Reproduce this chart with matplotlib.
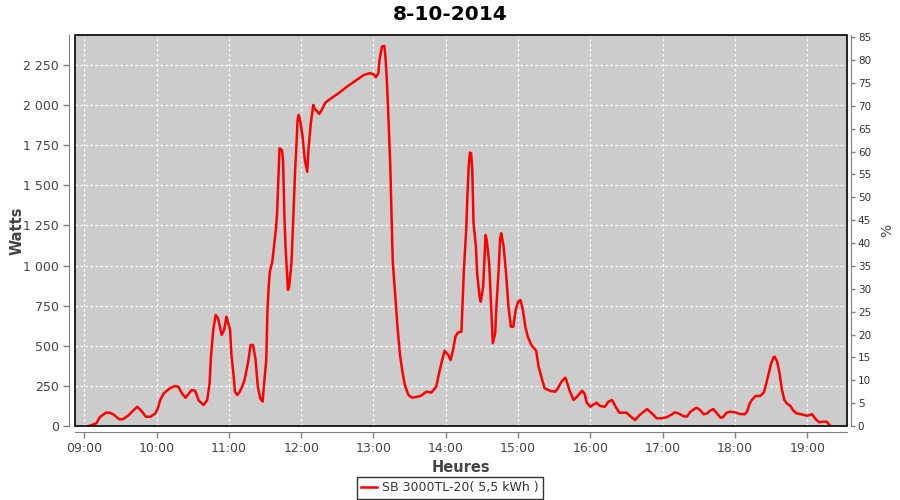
import numpy as np
import matplotlib
matplotlib.use("Agg")
import matplotlib.pyplot as plt
from matplotlib.patches import Rectangle
from matplotlib.ticker import FuncFormatter, FixedLocator

# Data (time of day, watts)
times = [
    "09:04", "09:10", "09:13", "09:18", "09:21", "09:24", "09:29", "09:32", "09:37", "09:39",
    "09:44", "09:48", "09:51", "09:55", "09:59", "10:01", "10:03", "10:06", "10:11", "10:15",
    "10:18", "10:21", "10:24", "10:29", "10:32", "10:35", "10:39", "10:42", "10:44", "10:45",
    "10:47", "10:49", "10:51", "10:54", "10:56", "10:58", "11:01", "11:02", "11:04", "11:05",
    "11:07", "11:09", "11:11", "11:13", "11:16", "11:18", "11:20", "11:22", "11:24", "11:26",
    "11:28", "11:29", "11:31", "11:32", "11:33", "11:34", "11:36", "11:37", "11:38", "11:39",
    "11:40", "11:41", "11:42", "11:44", "11:45", "11:46", "11:47", "11:49", "11:50", "11:52",
    "11:53", "11:54", "11:55", "11:56", "11:57", "11:58", "11:59", "12:01", "12:03", "12:05",
    "12:06", "12:08", "12:10", "12:11", "12:15", "12:17", "12:20", "12:24", "12:31", "12:38",
    "12:46", "12:52", "12:57", "13:00", "13:02", "13:04", "13:05", "13:07", "13:09", "13:10",
    "13:11", "13:12", "13:13", "13:14", "13:15", "13:16", "13:18", "13:20", "13:22", "13:24",
    "13:26", "13:29", "13:32", "13:35", "13:39", "13:44", "13:48", "13:52", "13:55", "13:57",
    "13:59", "14:02", "14:04", "14:06", "14:08", "14:10", "14:13", "14:14", "14:15", "14:17",
    "14:18", "14:19", "14:20", "14:21", "14:22", "14:23", "14:25", "14:26", "14:28", "14:29",
    "14:31", "14:32", "14:33", "14:34", "14:36", "14:37", "14:38", "14:39", "14:41", "14:42",
    "14:44", "14:45", "14:46", "14:48", "14:50", "14:52", "14:54", "14:56", "14:58", "15:00",
    "15:02", "15:04", "15:06", "15:08", "15:11", "15:15", "15:17", "15:20", "15:22", "15:27",
    "15:31", "15:33", "15:36", "15:39", "15:40", "15:43", "15:46", "15:49", "15:53", "15:55",
    "15:57", "16:00", "16:02", "16:05", "16:08", "16:12", "16:15", "16:18", "16:21", "16:24",
    "16:30", "16:33", "16:37", "16:41", "16:47", "16:51", "16:55", "16:59", "17:03", "17:07",
    "17:10", "17:13", "17:17", "17:20", "17:23", "17:28", "17:31", "17:34", "17:37", "17:39",
    "17:42", "17:45", "17:48", "17:50", "17:53", "17:56", "18:00", "18:04", "18:08", "18:10",
    "18:12", "18:14", "18:17", "18:21", "18:24", "18:26", "18:28", "18:30", "18:32", "18:33",
    "18:35", "18:37", "18:39", "18:41", "18:43", "18:46", "18:48", "18:51", "18:55", "19:00",
    "19:02", "19:04", "19:07", "19:10", "19:13", "19:16", "19:18", "19:19",
]
watts = [
    0, 17, 56, 83, 83, 73, 42, 42, 68, 85,
    120, 89, 58, 58, 79, 110, 162, 204, 235, 249,
    245, 204, 176, 224, 220, 158, 131, 162, 266, 422,
    598, 692, 671, 567, 598, 681, 598, 453, 307, 214,
    193, 214, 245, 287, 401, 505, 505, 422, 245, 173,
    152, 245, 411, 720, 868, 962, 1024, 1087, 1160, 1222,
    1326, 1534, 1731, 1720, 1648, 1326, 1118, 848, 868, 1024,
    1222, 1430, 1600, 1742, 1908, 1939, 1908, 1814, 1658, 1585,
    1720, 1887, 2001, 1980, 1945, 1970, 2015, 2038, 2074, 2115,
    2157, 2188, 2199, 2192, 2174, 2199, 2282, 2365, 2369, 2292,
    2167, 2000, 1804, 1606, 1300, 1024, 817, 609, 443, 339,
    256, 193, 176, 180, 187, 214, 208, 245, 349, 411,
    469, 443, 411, 474, 557, 582, 588, 785, 972, 1232,
    1451, 1617, 1704, 1700, 1596, 1264, 1118, 952, 807, 775,
    868, 1035, 1191, 1160, 1014, 848, 680, 516, 578, 744,
    993, 1160, 1201, 1118, 952, 744, 619, 619, 723, 775,
    785, 723, 619, 557, 505, 469, 370, 287, 235, 218,
    214, 235, 276, 301, 287, 214, 162, 183, 220, 204,
    145, 120, 131, 145, 125, 120, 152, 162, 120, 83,
    83, 62, 37, 69, 106, 79, 48, 48, 54, 69,
    85, 79, 62, 58, 89, 114, 100, 73, 79, 94,
    106, 79, 52, 54, 83, 89, 85, 75, 73, 89,
    137, 162, 187, 187, 210, 266, 328, 391, 428, 432,
    401, 328, 224, 162, 141, 125, 100, 79, 73, 64,
    69, 73, 42, 23, 27, 27, 11, 2,
]
title = "8-10-2014"
series_label = "SB 3000TL-20( 5,5 kWh )"
watt_ticks = [0, 250, 500, 750, 1000, 1250, 1500, 1750, 2000, 2250]
pct_ticks = list(range(0, 90, 5))
hour_ticks = list(range(9, 20))

hours = [int(t[:2]) + int(t[3:]) / 60 for t in times]

fig = plt.figure(figsize=(9, 5), dpi=100)
ax = fig.add_axes([75 / 900, 74 / 500, 771.7 / 900, 391 / 500])
ax.set_facecolor("#cccccc")

ax.plot(hours, watts, color="#ff0000", lw=1.8, zorder=3, label=series_label)

ax.set_xlim(8.8714, 19.545)
ax.set_ylim(0, 2437)
ax.xaxis.set_major_locator(FixedLocator(hour_ticks))
ax.xaxis.set_major_formatter(FuncFormatter(lambda v, p: "%02d:00" % int(round(v))))
ax.yaxis.set_major_locator(FixedLocator(watt_ticks))
ax.yaxis.set_major_formatter(FuncFormatter(lambda v, p: "{:,}".format(int(v)).replace(",", " ")))

ax.grid(True, color="white", linestyle=(0, (2, 2)), linewidth=0.9)
ax.set_axisbelow(True)

for side in ["top", "right"]:
    ax.spines[side].set_visible(False)
for side in ["left", "bottom"]:
    ax.spines[side].set_position(("outward", 4))
    ax.spines[side].set_color("#808080")
ax.tick_params(axis="both", colors="#808080", length=4, width=1,
               labelcolor="#444444", labelsize=9)

# black outline of the plot area
ax.add_patch(Rectangle((0, 0), 1, 1, transform=ax.transAxes, fill=False,
                       edgecolor="black", lw=1.2, zorder=4, clip_on=False))

ax2 = ax.twinx()
ax2.set_ylim(0, 85.5)
ax2.yaxis.set_major_locator(FixedLocator(pct_ticks))
for side in ["top", "left", "bottom"]:
    ax2.spines[side].set_visible(False)
ax2.spines["right"].set_position(("outward", 3))
ax2.spines["right"].set_color("#808080")
ax2.tick_params(axis="y", colors="#808080", length=3, width=1,
                labelcolor="#333333", labelsize=7.5, pad=2)

ax.set_ylabel("Watts", fontsize=10.5, fontweight="bold", color="#444444")
ax.yaxis.set_label_coords(-0.066, 0.5)
ax.set_xlabel("Heures", fontsize=10.5, fontweight="bold", color="#444444")
ax.xaxis.set_label_coords(0.5, -0.087)
ax2.set_ylabel("%", fontsize=10, color="#444444")
ax2.yaxis.set_label_coords(1.043, 0.5)

fig.suptitle(title, fontsize=14.5, fontweight="bold", y=0.99, va="top")

leg = fig.legend(loc="center", bbox_to_anchor=(450 / 900, 1 - 488 / 500),
                 frameon=True, fancybox=False, fontsize=9, handlelength=1.3,
                 handletextpad=0.4, borderpad=0.35, borderaxespad=0)
leg.get_frame().set_edgecolor("black")
leg.get_frame().set_linewidth(1)
for t in leg.get_texts():
    t.set_color("#333333")

fig.savefig("out.png", dpi=100)
